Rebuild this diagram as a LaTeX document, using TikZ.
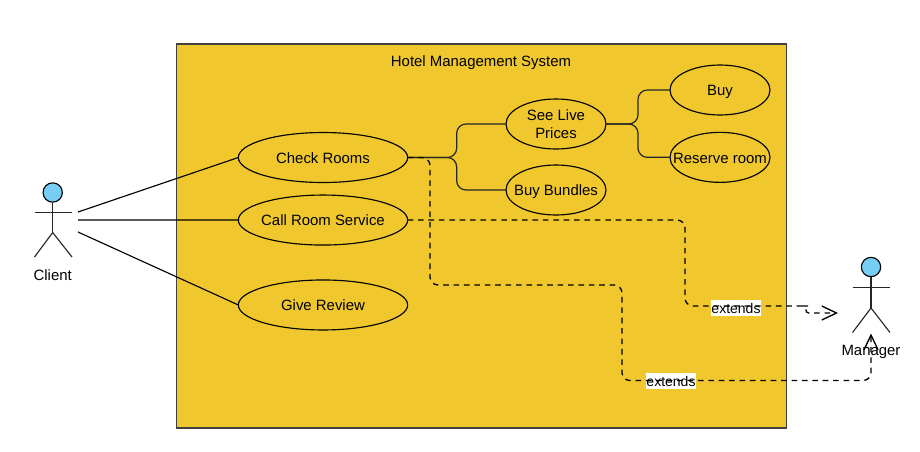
\documentclass[tikz,border=0pt]{standalone}
\usepackage{fontspec}
\setmainfont{Liberation Sans}
\usepackage{tikz}
\usetikzlibrary{shapes.geometric, arrows.meta, positioning}
\definecolor{sysyellow}{HTML}{F0C82E}
\definecolor{headblue}{HTML}{77CEF5}

\begin{document}
\begin{tikzpicture}[
        x=0.75pt, y=-0.75pt,
        font=\fontsize{11.2pt}{13.5pt}\selectfont,
        system/.style={rectangle, draw=black!75, fill=sysyellow, line width=0.9pt, minimum width=457.5pt, minimum height=288pt, inner sep=0pt},
        oneline/.style={text height=8.5pt, text depth=0pt},
        usecase/.style={ellipse, draw=black, line width=0.85pt, minimum width=127pt, minimum height=37.5pt, inner xsep=-16pt, inner ysep=-5pt, outer sep=0pt},
        smallcase/.style={usecase, minimum width=75pt},
        head/.style={circle, draw=black, fill=headblue, line width=0.85pt, minimum size=14.5pt, inner sep=0pt},
        limb/.style={draw=black!85, line width=0.85pt},
        assoc/.style={draw=black, line width=0.85pt},
        branch/.style={draw=black!85, line width=0.9pt, rounded corners=7pt},
        extend/.style={draw=black, line width=1pt, dash pattern=on 4.2pt off 3.6pt, rounded corners=6pt, -{Straight Barb[length=11pt, width=10.5pt]}},
        tag/.style={oneline, fill=white, inner sep=0pt, minimum height=12pt, font=\fontsize{10.5pt}{12pt}\selectfont}
    ]
        \useasboundingbox (0,0) rectangle (920,451);
        \node[system] (system) at (481.5,236) {};
        \node[oneline] (title) at (481,61) {Hotel Management System};

        % use cases
        \node[usecase, oneline] (check) at (323,157.5) {Check Rooms};
        \node[usecase, oneline, below=9.4pt of check] (call) {Call Room Service};
        \node[usecase, oneline, below=26.2pt of call] (review) {Give Review};
        \node[smallcase, align=center] (prices) at (556,124) {See Live\\Prices};
        \node[smallcase, oneline, below=12pt of prices] (bundles) {Buy Bundles};
        \node[smallcase, oneline] (buy) at (720,90) {Buy};
        \node[smallcase, oneline, below=13pt of buy] (reserve) {Reserve room};

        % client
        \node[head] (client) at (52.7,192.5) {};
        \coordinate (clientHip) at (52.7,232.5);
        \coordinate (clientArmL) at (34.5,212.5);
        \coordinate (clientArmR) at (72,212.5);
        \coordinate (clientFootL) at (34.5,257);
        \coordinate (clientFootR) at (72,257);
        \node[oneline] (clientName) at (52.7,275) {Client};
        \draw[limb] (client) -- (clientHip);
        \draw[limb] (clientArmL) -- (clientArmR);
        \draw[limb] (clientFootL) -- (clientHip) -- (clientFootR);

        % manager
        \node[head] (manager) at (871,267) {};
        \coordinate (managerHip) at (871,308);
        \coordinate (managerArmL) at (852.5,287.5);
        \coordinate (managerArmR) at (890,287.5);
        \coordinate (managerFootL) at (852.5,332.5);
        \coordinate (managerFootR) at (890,332.5);
        \node[oneline] (managerName) at (871,350) {Manager};
        \draw[limb] (manager) -- (managerHip);
        \draw[limb] (managerArmL) -- (managerArmR);
        \draw[limb] (managerFootL) -- (managerHip) -- (managerFootR);

        % client associations
        \coordinate (clientTop) at (78,212);
        \coordinate (clientMid) at (78,220);
        \coordinate (clientLow) at (78,232);
        \draw[assoc] (clientTop) -- (check.west);
        \draw[assoc] (clientMid) -- (call.west);
        \draw[assoc] (clientLow) -- (review.west);

        % branches
        \draw[branch] (check.east) -- ++(49,0) |- (prices.west);
        \draw[branch] (check.east) -- ++(49,0) |- (bundles.west);
        \draw[branch] (prices.east) -- ++(32,0) |- (buy.west);
        \draw[branch] (prices.east) -- ++(32,0) |- (reserve.west);

        % labels go first, the dashes run across them
        \node[tag] (extendsA) at (736,307.5) {extends};
        \node[tag] (extendsB) at (671,380.5) {extends};
        \coordinate (managerLeft) at (838,313);
        \coordinate (managerLow) at (871,333.5);
        \draw[extend] (call.east) -| (685,306) -- (800,306) [rounded corners=2pt] -- (806,306) |- (managerLeft);
        \draw[extend] (check.east) -- (430,157.5) |- (622,285) |- (871,380.5) -- (managerLow);
    \end{tikzpicture}
\end{document}
